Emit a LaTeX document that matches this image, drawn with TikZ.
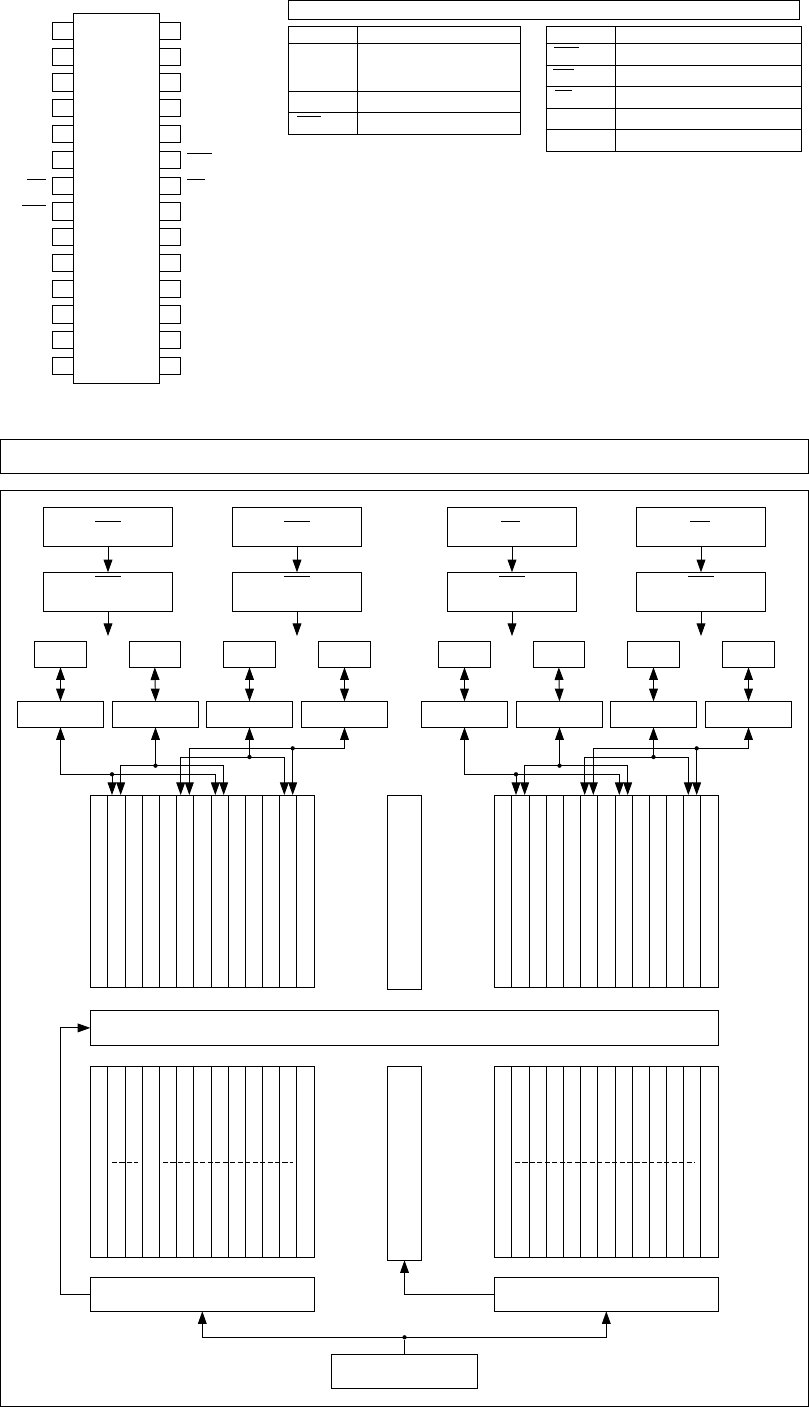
\documentclass[tikz,border=0pt]{standalone}
\usepackage{tikz}
\usetikzlibrary{arrows.meta}

\tikzset{
  blk/.style={draw, rectangle, inner sep=0pt, outer sep=0pt},
  wire/.style={line width=0.7pt},
  sig/.style={wire, -{Triangle[length=9.5pt,width=6.6pt]}},
  sigboth/.style={wire, {Triangle[length=9.5pt,width=6.6pt]}-{Triangle[length=9.5pt,width=6.6pt]}},
  overbar/.style={wire},
  rowdash/.style={wire, dash pattern=on 3.8pt off 1.8pt},
  junction/.style={circle, fill, inner sep=0pt, minimum size=3.2pt}
}
% name, left, top, right, bottom (in pixels of the page)
\newcommand{\blk}[5]{\node[blk, minimum width={((#4)-(#2))*0.75pt}, minimum height={((#5)-(#3))*0.75pt}] (#1) at ({((#2)+(#4))/2},{((#3)+(#5))/2}) {};}

\begin{document}
\begin{tikzpicture}[x=0.75pt, y=-0.75pt, line width=0.7pt]
  \useasboundingbox (0,0) rectangle (809,1407);

  % package outline
  \blk{chip}{73.3}{13.3}{159.3}{383.3}
  \foreach \n/\ya/\yb in {1/22.3/39.3, 2/48.3/65.3, 3/73.3/91.3, 4/99.3/116.3, 5/125.3/142.3, 6/151.3/168.3, 7/177.3/194.3, 8/202.3/220.3, 9/228.3/245.3, 10/254.3/271.3, 11/280.3/297.3, 12/305.3/323.3, 13/331.3/348.3, 14/357.3/374.3} {
    \blk{pinL\n}{52.3}{\ya}{73.3}{\yb}
    \blk{pinR\n}{159.3}{\ya}{180.7}{\yb}
  }
  \foreach \xa/\xb/\y in {27/46/179.3, 22/46/205.3, 187/212/153.3, 187/205/179.3}
    \draw[overbar] (\xa,\y) -- (\xb,\y);

  % pin tables
  \blk{title}{288.3}{0.7}{799.3}{19.3}
  \blk{tabA}{288.3}{26.3}{520.3}{134.3}
  \blk{tabB}{546.3}{26.3}{801.3}{151.3}
  \draw[wire] (tabA.north west -| 357.3,0) -- (tabA.south west -| 357.3,0);
  \foreach \y in {43.3,91.3,112.3}
    \draw[wire] (tabA.west |- 0,\y) -- (tabA.east |- 0,\y);
  \draw[wire] (tabB.north west -| 615.3,0) -- (tabB.south west -| 615.3,0);
  \foreach \y in {43.3,65.3,86.3,108.3,129.3}
    \draw[wire] (tabB.west |- 0,\y) -- (tabB.east |- 0,\y);
  \foreach \xa/\xb/\y in {297/321/116.3, 554/579/47.3, 553/574/69.3, 555/572/90.3}
    \draw[overbar] (\xa,\y) -- (\xb,\y);

  % banner and frame
  \blk{banner}{0.5}{439.3}{808.7}{473.3}
  \blk{frame}{0.5}{490.3}{808.7}{1406.5}

  % left and right halves
  \foreach \side/\dx in {L/0,R/404} {
    \foreach \i/\xa/\xb in {1/43.3/172.7, 2/232.3/361.7} {
      \blk{reg\side\i}{\xa+\dx}{507.3}{\xb+\dx}{546.3}
      \blk{ctl\side\i}{\xa+\dx}{572.3}{\xb+\dx}{611.3}
      \coordinate (out\side\i) at ({(\xa+\xb)/2+\dx},636);
      \draw[sig] (reg\side\i.south) -- (ctl\side\i.north);
      \draw[sig] (ctl\side\i.south) -- (out\side\i);
    }
    \foreach \i/\xa/\xb/\xc/\xd in {1/34.3/86.7/17.3/103.7, 2/129.3/180.3/112.3/198.7, 3/223.3/275.7/206.3/292.7, 4/318.3/370.7/301.3/387.7} {
      \blk{port\side\i}{\xa+\dx}{641.3}{\xb+\dx}{667.3}
      \blk{bus\side\i}{\xc+\dx}{701.3}{\xd+\dx}{727.3}
      \draw[sigboth] (port\side\i.south) -- (bus\side\i.north);
    }

    % cell arrays
    \blk{upper\side}{90.3+\dx}{795}{314.3+\dx}{987.3}
    \blk{lower\side}{90.3+\dx}{1066.3}{314.3+\dx}{1257.3}
    \foreach \c in {107.3,125.7,142.7,159.7,176.7,193.7,211.3,228.7,245.7,262.7,279.7,296.7} {
      \draw[wire] ({\c+\dx},795) -- ({\c+\dx},987.3);
      \draw[wire] ({\c+\dx},1066.3) -- ({\c+\dx},1257.3);
    }
    \blk{dec\side}{90.3+\dx}{1277.3}{314.3+\dx}{1311.3}

    % bus wiring
    \coordinate (tapA\side) at ({112+\dx},795);
    \coordinate (tapB\side) at ({120.7+\dx},795);
    \coordinate (tapC\side) at ({180.7+\dx},795);
    \coordinate (tapD\side) at ({189.3+\dx},795);
    \coordinate (tapE\side) at ({215.3+\dx},795);
    \coordinate (tapF\side) at ({223.7+\dx},795);
    \coordinate (tapG\side) at ({284.3+\dx},795);
    \coordinate (tapH\side) at ({292.7+\dx},795);
    \node[junction] (dotA\side) at ({112+\dx},774.3) {};
    \node[junction] (dotB\side) at ({155.5+\dx},765.7) {};
    \node[junction] (dotC\side) at ({249.5+\dx},757) {};
    \node[junction] (dotD\side) at ({292.7+\dx},748.3) {};
    \draw[sig] (dotA\side.center) -| (bus\side1.south);
    \draw[sig] (dotA\side.center) -- (tapA\side);
    \draw[sig] (dotA\side.center) -| (tapE\side);
    \draw[sig] (dotB\side.center) -- (bus\side2.south);
    \draw[sig] (dotB\side.center) -| (tapB\side);
    \draw[sig] (dotB\side.center) -| (tapF\side);
    \draw[sig] (dotC\side.center) -- (bus\side3.south);
    \draw[sig] (dotC\side.center) -| (tapC\side);
    \draw[sig] (dotC\side.center) -| (tapG\side);
    \draw[sig] (dotD\side.center) -| (bus\side4.south);
    \draw[sig] (dotD\side.center) -| (tapD\side);
    \draw[sig] (dotD\side.center) -- (tapH\side);
  }
  \foreach \xa/\xb/\y in {95/120.7/521.3, 95/120.7/576.3, 284/310/521.3, 284/310/576.3, 501/520/521.3, 499/525/576.3, 690/710/521.3, 688/714/576.3}
    \draw[overbar] (\xa,\y) -- (\xb,\y);

  % middle parts
  \blk{sprUp}{387.3}{795}{421.7}{989.3}
  \blk{sprLow}{387.3}{1066.3}{421.7}{1260.3}
  \blk{wide}{90.3}{1010.5}{718.3}{1045.3}
  \blk{clk}{331.3}{1354.3}{477.7}{1388.3}

  % dashed rows of the lower arrays
  \draw[rowdash] (112,1162.3) -- (138.3,1162.3);
  \draw[rowdash] (163,1162.3) -- (293.3,1162.3);
  \draw[rowdash] (515,1162.3) -- (694.3,1162.3);

  % control
  \coordinate (turn) at (60.7,1294.3);
  \draw[sig] (decL.west) -- (turn) |- (wide.west);
  \draw[sig] (decR.west) -| (sprLow.south);
  \node[junction] (split) at (clk.north |- 0,1337.3) {};
  \draw[wire] (clk.north) -- (split);
  \draw[sig] (split.center) -| (decL.south);
  \draw[sig] (split.center) -| (decR.south);
\end{tikzpicture}
\end{document}
